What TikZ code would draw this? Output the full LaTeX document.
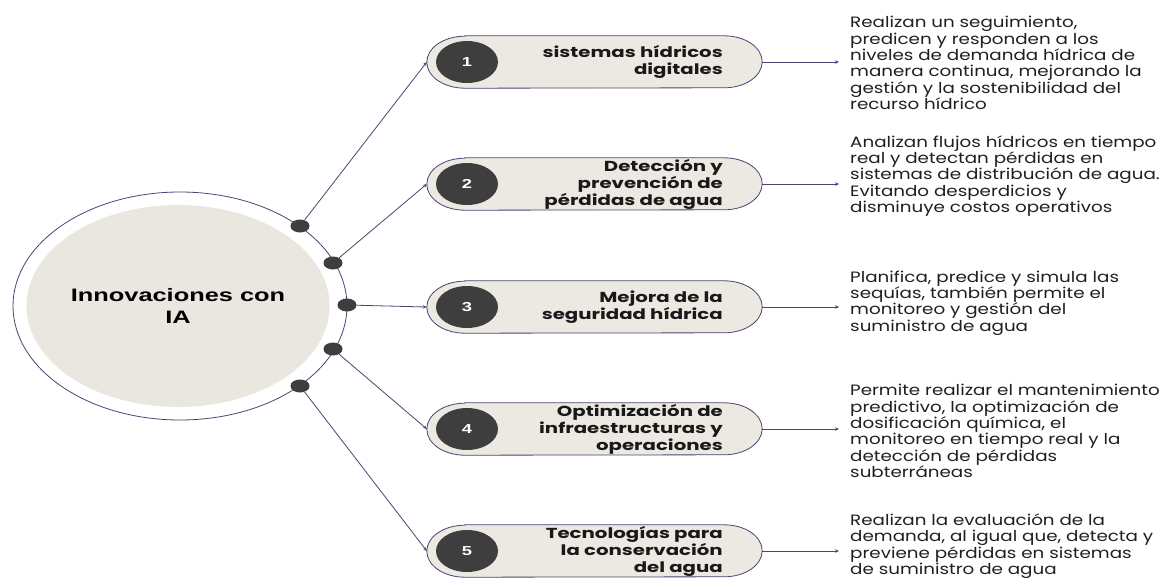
\documentclass[tikz,border=0pt]{standalone}
\usepackage{fontspec}
\setmainfont{Poppins}
\newfontfamily\bodyfont{Poppins}[FakeStretch=1.22]
\newfontfamily\labelfont{Poppins}[FakeStretch=1.36]
\newfontfamily\titlefont{Liberation Sans}[FakeStretch=1.41]
\usetikzlibrary{shapes.geometric,arrows.meta}
\definecolor{linec}{HTML}{4E4272}
\definecolor{pillfill}{HTML}{ECE9E2}
\definecolor{darkc}{HTML}{3E3E3E}
\definecolor{centerfill}{HTML}{EAE7E0}
\begin{document}
\begin{tikzpicture}[x=1pt,y=-1pt,
 conn/.style={draw=linec, line width=0.8pt},
 arr/.style={conn, -{Stealth[length=4pt,width=3.5pt]}},
 dotn/.style={ellipse, fill=darkc, minimum width=19pt, minimum height=13pt, inner sep=0pt},
 numc/.style={ellipse, fill=darkc, minimum width=62pt, minimum height=42pt, inner sep=0pt, text=white, font=\titlefont\bfseries\fontsize{13}{13}\selectfont},
 pillbox/.style={rectangle, minimum width=335pt, minimum height=52pt, inner sep=0pt},
 pillshape/.style={fill=pillfill, draw=linec, line width=0.8pt},
 pilltext/.style={anchor=east, align=right, inner sep=0pt, font=\labelfont\bfseries\fontsize{14.5}{17}\selectfont, text=black!90},
 desc/.style={anchor=west, align=left, inner sep=0pt, font=\bodyfont\fontsize{15}{16.3}\selectfont, text=black!88}
]
\useasboundingbox (0,0) rectangle (1164,578);

% central circle
\node[ellipse, draw=linec, line width=0.8pt, minimum width=334pt, minimum height=228pt, inner sep=0pt] (outer) at (180,306) {};
\node[ellipse, fill=centerfill, minimum width=294pt, minimum height=202pt, inner sep=0pt, align=center,
      font=\titlefont\bfseries\fontsize{18}{22}\selectfont] (core) at (178,306) {Innovaciones con\\IA};

% pill anchors
\node[pillbox] (p1) at (594.5,62) {};
\node[pillbox] (p2) at (594.5,184) {};
\node[pillbox] (p3) at (594.5,307) {};
\node[pillbox] (p4) at (594.5,429) {};
\node[pillbox] (p5) at (594.5,551) {};
\foreach \i in {1,...,5}{
  \path[pillshape] ([xshift=38pt]p\i.north west) -- ([xshift=-38pt]p\i.north east)
    arc[start angle=90,end angle=-90,x radius=38pt,y radius=26pt]
    -- ([xshift=38pt]p\i.south west)
    arc[start angle=270,end angle=90,x radius=38pt,y radius=26pt] -- cycle;
}

% number circles
\node[numc] (n1) at (467,62) {1};
\node[numc] (n2) at (467,184) {2};
\node[numc] (n3) at (467,307) {3};
\node[numc] (n4) at (467,429) {4};
\node[numc] (n5) at (467,551) {5};

% pill labels
\node[pilltext] (l1) at (723,62) {sistemas hídricos\\digitales};
\node[pilltext] (l2) at (723,184) {Detección y\\prevención de\\pérdidas de agua};
\node[pilltext] (l3) at (723,307) {Mejora de la\\seguridad hídrica};
\node[pilltext] (l4) at (723,429) {Optimización de\\infraestructuras y\\operaciones};
\node[pilltext] (l5) at (723,551) {Tecnologías para\\la conservación\\del agua};

% dots
\node[dotn] (d1) at (300,226) {};
\node[dotn] (d2) at (333,263) {};
\node[dotn] (d3) at (347,305) {};
\node[dotn] (d4) at (333,349) {};
\node[dotn] (d5) at (300,386) {};

% descriptions
\node[desc] (t1) at (850,63) {Realizan un seguimiento,\\predicen y responden a los\\niveles de demanda hídrica de\\manera continua, mejorando la\\gestión y la sostenibilidad del\\recurso hídrico};
\node[desc] (t2) at (850,176) {Analizan flujos hídricos en tiempo\\real y detectan pérdidas en\\sistemas de distribución de agua.\\Evitando desperdicios y\\disminuye costos operativos};
\node[desc] (t3) at (850,303) {Planifica, predice y simula las\\sequías, también permite el\\monitoreo y gestión del\\suministro de agua};
\node[desc] (t4) at (850,431) {Permite realizar el mantenimiento\\predictivo, la optimización de\\dosificación química, el\\monitoreo en tiempo real y la\\detección de pérdidas\\subterráneas};
\node[desc] (t5) at (850,546) {Realizan la evaluación de la\\demanda, al igual que, detecta y\\previene pérdidas en sistemas\\de suministro de agua};

% connectors
\foreach \i in {1,...,5}{
  \draw[arr] (d\i) -- (p\i.west);
  \draw[arr, shorten >=11pt] (p\i.east) -- (p\i.east -| t\i.west);
}
\end{tikzpicture}
\end{document}
